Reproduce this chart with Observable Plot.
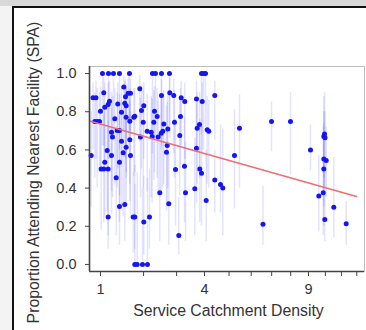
<!DOCTYPE html>
<html>
<head>
<meta charset="utf-8">
<script src="https://cdn.jsdelivr.net/npm/d3@7"></script>
<script src="https://cdn.jsdelivr.net/npm/@observablehq/plot@0.6"></script>
<style>
  html, body { margin: 0; padding: 0; background: #fff; }
  #wrap { position: relative; width: 366px; height: 330px; background: #fff; overflow: hidden; }
  #chart { position: absolute; left: 0; top: 0; }
  .deco { position: absolute; }
</style>
</head>
<body>
<div id="wrap">
  <div id="chart"></div>
  <div class="deco" style="left:0;top:0;width:366px;height:6px;background:#d8d8d8"></div>
  <div class="deco" style="left:0;top:6px;width:12px;height:324px;background:#f3f3f3"></div>
  <div class="deco" style="left:12px;top:6px;width:354px;height:2px;background:#111"></div>
  <div class="deco" style="left:12px;top:6px;width:2px;height:324px;background:#111"></div>
</div>
<script>
// ---- data ----
const density = [
  1.039,1.160,1.266,1.399,1.635,2.25,2.337,2.517,2.767,3.886,3.962,4.039,
  0.861,0.915,1.064,1.498,1.539,1.604,1.660,1.899,2.517,2.777,2.906,3.154,3.278,3.698,3.912,4.406,
  1.0,1.084,1.153,1.181,1.360,1.522,1.555,1.445,1.944,2.006,2.308,2.388,1.768,1.294,
  0.829,0.893,0.938,0.981,1.013,1.064,1.153,1.084,1.133,1.223,1.223,1.244,1.325,1.347,1.399,1.399,
  1.445,1.484,1.555,1.555,1.643,1.643,1.660,1.743,1.917,1.990,2.100,2.213,2.241,2.288,2.417,2.466,
  2.508,2.557,2.588,2.672,2.694,2.745,2.713,2.963,2.929,3.130,3.106,3.268,3.303,3.636,3.698,3.724,
  3.810,3.821,3.886,4.065,4.104,4.167,4.406,4.639,4.735,5.237,5.459,6.566,6.992,7.991,9.116,9.604,
  9.868,9.904,9.904,10.050,9.947,9.904,9.977,9.965,10.519,11.306,
  1.153,1.399,1.522,1.728,1.768,2.006,2.164,1.768,1.830,1.971,2.108,3.073
];
const spa = [
  1,1,1,1,1,1,1,1,1,1,1,1,
  0.873,0.873,0.90,0.93,0.878,0.897,0.897,0.92,0.885,0.899,0.885,0.873,0.853,0.867,0.853,0.885,
  0.803,0.824,0.838,0.855,0.841,0.844,0.832,0.797,0.806,0.832,0.803,0.775,0.776,0.763,
  0.571,0.749,0.749,0.749,0.50,0.50,0.50,0.536,0.597,0.571,0.693,0.667,0.454,0.702,0.702,0.536,
  0.646,0.585,0.614,0.771,0.750,0.653,0.571,0.771,0.667,0.745,0.698,0.693,0.670,0.745,0.667,0.375,
  0.687,0.698,0.736,0.588,0.623,0.318,0.710,0.497,0.745,0.775,0.675,0.515,0.375,0.396,0.609,0.714,
  0.733,0.50,0.478,0.335,0.705,0.698,0.443,0.419,0.40,0.571,0.714,0.211,0.749,0.749,0.60,0.358,
  0.375,0.50,0.553,0.545,0.684,0.67,0.664,0.236,0.30,0.213,
  0.248,0.304,0.314,0.248,0.248,0.222,0.248,0,0,0,0,0.152
];
const spaLow = [
  0.62,0.55,0.66,0.60,0.70,0.58,0.66,0.62,0.70,0.68,0.60,0.72,
  0.60,0.55,0.62,0.70,0.55,0.62,0.68,0.64,0.60,0.66,0.58,0.62,0.55,0.60,0.58,0.65,
  0.50,0.52,0.58,0.55,0.50,0.56,0.48,0.52,0.50,0.55,0.48,0.45,0.48,0.42,
  0.30,0.45,0.40,0.48,0.18,0.22,0.15,0.25,0.28,0.26,0.38,0.35,0.15,0.40,0.36,0.22,
  0.30,0.25,0.32,0.45,0.42,0.33,0.24,0.46,0.35,0.40,0.38,0.35,0.32,0.44,0.36,0.12,
  0.38,0.40,0.42,0.28,0.30,0.10,0.40,0.20,0.45,0.50,0.36,0.22,0.12,0.15,0.32,0.42,
  0.45,0.22,0.20,0.12,0.42,0.40,0.27,0.27,0.15,0.29,0.40,0.10,0.59,0.47,0.49,0.17,
  0.15,0.20,0.30,0.35,0.40,0.45,0.50,0.12,0.14,0.10,
  0.08,0.10,0.12,0.06,0.08,0.05,0.08,0,0,0,0,0.05
];
const spaHigh = [
  1,1,1,1,1,1,1,1,1,1,1,1,
  0.95,0.96,0.98,0.99,0.97,0.98,0.97,0.99,0.97,0.98,0.97,0.96,0.95,0.96,0.95,0.96,
  0.93,0.95,0.95,0.96,0.95,0.96,0.94,0.93,0.94,0.95,0.93,0.92,0.92,0.92,
  0.80,0.90,0.92,0.90,0.75,0.78,0.75,0.80,0.85,0.82,0.90,0.88,0.72,0.90,0.89,0.78,
  0.86,0.82,0.84,0.93,0.92,0.86,0.80,0.92,0.87,0.91,0.89,0.88,0.87,0.91,0.86,0.65,
  0.88,0.89,0.91,0.83,0.85,0.58,0.90,0.76,0.91,0.92,0.87,0.77,0.64,0.66,0.84,0.90,
  0.90,0.76,0.74,0.60,0.88,0.86,0.60,0.73,0.71,0.81,0.89,0.41,0.85,0.90,0.73,0.57,
  0.72,0.80,0.74,0.72,0.90,0.88,0.80,0.50,0.56,0.33,
  0.50,0.55,0.58,0.48,0.52,0.46,0.50,0.42,0.48,0.40,0.45,0.35
];
// fitted trend line endpoints
const fitX = [0.817, 11.98];
const fitY = [0.75, 0.356];
// tick labels
const xTicks = [1,2,3,4,5,6,7,8,9,10,11,12];
const xTickLabels = [1,4,9];
const yTicks = [0,0.2,0.4,0.6,0.8,1.0];
const xTitle = "Service Catchment Density";
const yTitle = "Proportion Attending Nearest Facility (SPA)";

// ---- build ----
const rows = density.map((d,i) => ({x: d, y: spa[i], lo: spaLow[i], hi: spaHigh[i]}));
const fit = fitX.map((d,i) => ({x: d, y: fitY[i]}));
const xDomain = [0.80, 12.52];
const yDomain = [-0.037, 1.037];

const chart = Plot.plot({
  width: 366,
  height: 330,
  marginLeft: 89,
  marginRight: 2,
  marginTop: 66,
  marginBottom: 59,
  style: {fontFamily: "'Liberation Sans', Arial, Helvetica, sans-serif", fontSize: "14.5px", color: "#333", background: "transparent"},
  x: {type: "sqrt", domain: xDomain},
  y: {domain: yDomain},
  marks: [
    Plot.frame({stroke: "#bdbdbd", strokeWidth: 1}),
    Plot.ruleX(rows, {x: "x", y1: "lo", y2: "hi", stroke: "#3c3cff", strokeOpacity: 0.14, strokeWidth: 1.5}),
    Plot.dot(rows, {x: "x", y: "y", r: 2.5, fill: "#1414f5", stroke: "none"}),
    Plot.line(fit, {x: "x", y: "y", stroke: "#ef6e6e", strokeWidth: 1.5}),
    Plot.ruleX([xDomain[0]], {stroke: "#444", strokeWidth: 1.6}),
    Plot.ruleY([yDomain[0]], {stroke: "#444", strokeWidth: 1.6}),
    Plot.axisX({ticks: xTicks, tickFormat: d => xTickLabels.includes(d) ? String(d) : "", tickSize: 5, tickPadding: 7, label: null, stroke: "#444", fill: "#333"}),
    Plot.axisY({ticks: yTicks, tickFormat: d3.format(".1f"), tickSize: 4, tickPadding: 9, label: null, stroke: "#444", fill: "#333"}),
    Plot.text([xTitle], {frameAnchor: "bottom", textAnchor: "middle", lineAnchor: "bottom", dy: 44, dx: 1.5, fontSize: 15.8, fill: "#333"}),
    Plot.text([yTitle], {frameAnchor: "left", textAnchor: "middle", lineAnchor: "bottom", rotate: -90, dx: -50.5, dy: 3.5, fontSize: 15.8, fill: "#333"})
  ]
});
document.getElementById("chart").appendChild(chart);
</script>
</body>
</html>
